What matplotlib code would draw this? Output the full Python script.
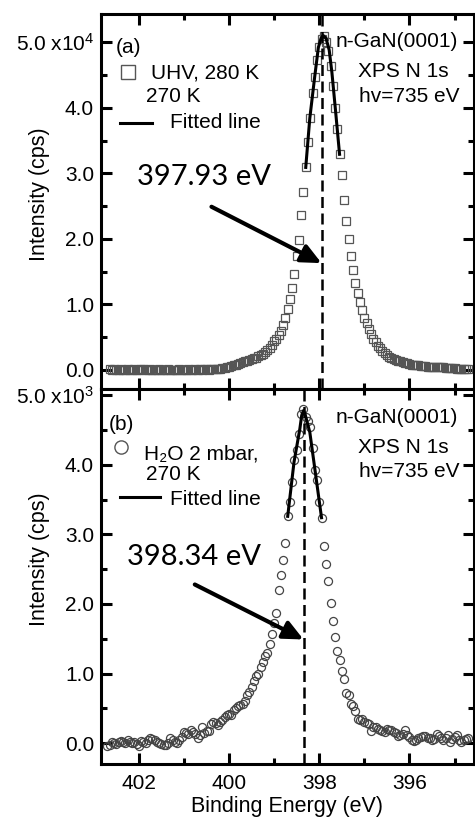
import matplotlib
matplotlib.use("Agg")
import matplotlib.pyplot as plt
from matplotlib.lines import Line2D
from matplotlib.ticker import MultipleLocator

plt.rcParams['font.family'] = ['Liberation Sans', 'DejaVu Sans']
plt.rcParams['mathtext.fontset'] = 'custom'
plt.rcParams['mathtext.rm'] = 'Liberation Sans'
plt.rcParams['mathtext.default'] = 'regular'

# UHV spectrum, intensity in 1e4 cps
energy_a = [
    402.65, 402.60, 402.55, 402.50, 402.45, 402.40, 402.35, 402.30, 402.25, 402.20,
    402.15, 402.10, 402.05, 402.00, 401.95, 401.90, 401.85, 401.80, 401.75, 401.70,
    401.65, 401.60, 401.55, 401.50, 401.45, 401.40, 401.35, 401.30, 401.25, 401.20,
    401.15, 401.10, 401.05, 401.00, 400.95, 400.90, 400.85, 400.80, 400.75, 400.70,
    400.65, 400.60, 400.55, 400.50, 400.45, 400.40, 400.35, 400.30, 400.25, 400.20,
    400.15, 400.10, 400.05, 400.00, 399.95, 399.90, 399.85, 399.80, 399.75, 399.70,
    399.65, 399.60, 399.55, 399.50, 399.45, 399.40, 399.35, 399.30, 399.25, 399.20,
    399.15, 399.10, 399.05, 399.00, 398.95, 398.90, 398.85, 398.80, 398.75, 398.70,
    398.65, 398.60, 398.55, 398.50, 398.45, 398.40, 398.35, 398.30, 398.25, 398.20,
    398.15, 398.10, 398.05, 398.00, 397.95, 397.90, 397.85, 397.80, 397.75, 397.70,
    397.65, 397.60, 397.55, 397.50, 397.45, 397.40, 397.35, 397.30, 397.25, 397.20,
    397.15, 397.10, 397.05, 397.00, 396.95, 396.90, 396.85, 396.80, 396.75, 396.70,
    396.65, 396.60, 396.55, 396.50, 396.45, 396.40, 396.35, 396.30, 396.25, 396.20,
    396.15, 396.10, 396.05, 396.00, 395.95, 395.90, 395.85, 395.80, 395.75, 395.70,
    395.65, 395.60, 395.55, 395.50, 395.45, 395.40, 395.35, 395.30, 395.25, 395.20,
    395.15, 395.10, 395.05, 395.00, 394.95, 394.90, 394.85, 394.80, 394.75, 394.70,
]
counts_a = [
    0.01, 0.00, 0.01, 0.00, 0.00, 0.01, 0.00, 0.00, 0.01, 0.00,
    0.00, 0.01, 0.00, 0.00, 0.01, 0.01, 0.00, 0.00, 0.01, 0.00,
    0.00, 0.00, 0.01, 0.00, 0.00, 0.00, 0.01, 0.00, 0.00, 0.00,
    0.00, 0.01, 0.00, 0.00, 0.00, 0.01, 0.00, 0.00, 0.01, 0.00,
    0.01, 0.00, 0.01, 0.01, 0.00, 0.01, 0.01, 0.01, 0.02, 0.02,
    0.03, 0.03, 0.04, 0.05, 0.06, 0.07, 0.08, 0.09, 0.10, 0.12,
    0.13, 0.14, 0.15, 0.16, 0.18, 0.19, 0.21, 0.23, 0.25, 0.27,
    0.31, 0.34, 0.38, 0.44, 0.48, 0.53, 0.60, 0.69, 0.80, 0.93,
    1.08, 1.25, 1.47, 1.74, 1.99, 2.36, 2.71, 3.09, 3.47, 3.84,
    4.23, 4.47, 4.73, 4.92, 5.05, 5.10, 5.00, 4.86, 4.63, 4.33,
    4.00, 3.67, 3.29, 2.97, 2.59, 2.27, 2.00, 1.74, 1.52, 1.33,
    1.17, 1.03, 0.91, 0.80, 0.71, 0.62, 0.55, 0.48, 0.42, 0.37,
    0.33, 0.29, 0.26, 0.23, 0.20, 0.18, 0.16, 0.15, 0.14, 0.13,
    0.12, 0.11, 0.10, 0.09, 0.08, 0.08, 0.07, 0.07, 0.06, 0.06,
    0.06, 0.05, 0.05, 0.05, 0.05, 0.04, 0.04, 0.04, 0.04, 0.03,
    0.03, 0.03, 0.03, 0.03, 0.02, 0.02, 0.02, 0.02, 0.02, 0.02,
]
fit_a_x = [398.30, 398.21, 398.10, 398.02, 397.96, 397.91, 397.85, 397.78, 397.72, 397.64, 397.55]
fit_a_y = [3.09, 3.84, 4.48, 4.92, 5.06, 5.10, 5.06, 4.88, 4.54, 3.96, 3.29]

# H2O 2 mbar spectrum, intensity in 1e3 cps
energy_b = [
    402.70, 402.65, 402.60, 402.55, 402.50, 402.45, 402.40, 402.35, 402.30, 402.25,
    402.20, 402.15, 402.10, 402.05, 402.00, 401.95, 401.90, 401.85, 401.80, 401.75,
    401.70, 401.65, 401.60, 401.55, 401.50, 401.45, 401.40, 401.35, 401.30, 401.25,
    401.20, 401.15, 401.10, 401.05, 401.00, 400.95, 400.90, 400.85, 400.80, 400.75,
    400.70, 400.65, 400.60, 400.55, 400.50, 400.45, 400.40, 400.35, 400.30, 400.25,
    400.20, 400.15, 400.10, 400.05, 400.00, 399.95, 399.90, 399.85, 399.80, 399.75,
    399.70, 399.65, 399.60, 399.55, 399.50, 399.45, 399.40, 399.35, 399.30, 399.25,
    399.20, 399.15, 399.10, 399.05, 399.00, 398.95, 398.90, 398.85, 398.80, 398.75,
    398.70, 398.65, 398.60, 398.55, 398.50, 398.45, 398.40, 398.35, 398.30, 398.25,
    398.20, 398.15, 398.10, 398.05, 398.00, 397.95, 397.90, 397.85, 397.80, 397.75,
    397.70, 397.65, 397.60, 397.55, 397.50, 397.45, 397.40, 397.35, 397.30, 397.25,
    397.20, 397.15, 397.10, 397.05, 397.00, 396.95, 396.90, 396.85, 396.80, 396.75,
    396.70, 396.65, 396.60, 396.55, 396.50, 396.45, 396.40, 396.35, 396.30, 396.25,
    396.20, 396.15, 396.10, 396.05, 396.00, 395.95, 395.90, 395.85, 395.80, 395.75,
    395.70, 395.65, 395.60, 395.55, 395.50, 395.45, 395.40, 395.35, 395.30, 395.25,
    395.20, 395.15, 395.10, 395.05, 395.00, 394.95, 394.90, 394.85, 394.80, 394.75,
    394.70,
]
counts_b = [
    -0.04, -0.02, 0.01, 0.00, -0.01, 0.02, 0.03, 0.01, 0.00, 0.04,
    0.02, 0.00, 0.02, -0.01, -0.04, 0.03, 0.01, 0.00, 0.05, 0.07,
    0.06, 0.05, 0.02, 0.00, -0.01, -0.03, -0.02, 0.00, 0.08, 0.05,
    0.02, 0.00, 0.05, 0.09, 0.16, 0.14, 0.13, 0.19, 0.16, 0.13,
    0.07, 0.12, 0.23, 0.15, 0.17, 0.18, 0.27, 0.30, 0.29, 0.26,
    0.31, 0.33, 0.38, 0.40, 0.42, 0.40, 0.47, 0.50, 0.53, 0.55,
    0.56, 0.60, 0.69, 0.74, 0.80, 0.90, 0.97, 0.99, 1.09, 1.17,
    1.25, 1.30, 1.43, 1.57, 1.73, 1.87, 2.20, 2.41, 2.63, 2.88,
    3.26, 3.47, 3.75, 4.07, 4.21, 4.45, 4.73, 4.80, 4.69, 4.63,
    4.54, 4.24, 3.92, 3.78, 3.47, 3.24, 2.83, 2.58, 2.33, 2.02,
    1.76, 1.52, 1.33, 1.19, 1.04, 0.92, 0.72, 0.69, 0.56, 0.53,
    0.46, 0.34, 0.33, 0.35, 0.31, 0.29, 0.27, 0.18, 0.23, 0.23,
    0.21, 0.19, 0.18, 0.16, 0.20, 0.19, 0.19, 0.16, 0.14, 0.10,
    0.12, 0.13, 0.19, 0.11, 0.09, 0.05, 0.03, 0.05, 0.08, 0.09,
    0.10, 0.10, 0.08, 0.07, 0.05, 0.06, 0.13, 0.10, 0.08, 0.04,
    0.07, 0.11, 0.01, 0.06, 0.09, 0.11, 0.05, 0.02, 0.04, 0.06,
    0.08,
]
fit_b_x = [398.70, 398.56, 398.43, 398.39, 398.35, 398.32, 398.21, 398.10, 397.95]
fit_b_y = [3.26, 4.04, 4.52, 4.71, 4.78, 4.74, 4.47, 3.95, 3.24]

peak_a = 397.93
peak_b = 398.34
ytick_vals = [0, 1, 2, 3, 4, 5]
ylabels_a = ['0.0', '1.0', '2.0', '3.0', '4.0', '5.0 x10$^4$']
ylabels_b = ['0.0', '1.0', '2.0', '3.0', '4.0', '5.0 x10$^3$']

W, H = 475, 821
fig = plt.figure(figsize=(W / 100, H / 100), dpi=100)
ax_a = fig.add_axes([101 / W, 1 - 389 / H, 372.5 / W, 375 / H])
ax_b = fig.add_axes([101 / W, 1 - 764 / H, 372.5 / W, 375 / H])

def fxy(x, y):
    return x / W, 1 - y / H

for ax in (ax_a, ax_b):
    ax.set_xlim(402.84, 394.58)
    ax.xaxis.set_major_locator(MultipleLocator(2))
    ax.xaxis.set_minor_locator(MultipleLocator(1))
    ax.yaxis.set_minor_locator(MultipleLocator(0.5))
    ax.tick_params(which='both', direction='in', top=True, right=True,
                   width=2.2, labelsize=15)
    ax.tick_params(which='major', length=8, pad=5)
    ax.tick_params(which='minor', length=4.5)
    for s in ax.spines.values():
        s.set_linewidth(2.2)

ax_a.set_ylim(-0.29, 5.43)
ax_b.set_ylim(-0.30, 5.09)
ax_a.set_yticks(ytick_vals, ylabels_a)
ax_b.set_yticks(ytick_vals, ylabels_b)
ax_a.tick_params(axis='x', labelbottom=False)
ax_b.tick_params(axis='x', pad=7)

arrow_style = dict(arrowstyle='-|>,head_length=0.75,head_width=0.35', lw=3,
                   color='k', mutation_scale=16, shrinkA=0, shrinkB=0)

ax_a.plot(energy_a, counts_a, ls='none', marker='s', ms=5.2, mfc='none',
          mec='#555555', mew=0.9)
ax_a.plot(fit_a_x, fit_a_y, color='k', lw=2.2)
ax_a.axvline(peak_a, color='k', lw=1.8, ls=(0, (4.4, 2.2)))
ax_a.annotate('', xy=(397.95, 1.63), xytext=(400.39, 2.49), arrowprops=arrow_style)

ax_b.plot(energy_b, counts_b, ls='none', marker='o', ms=5.8, mfc='none',
          mec='#444444', mew=0.9)
ax_b.plot(fit_b_x, fit_b_y, color='k', lw=2.2)
ax_b.axvline(peak_b, color='k', lw=1.8, ls=(0, (4.4, 2.2)))
ax_b.annotate('', xy=(398.35, 1.49), xytext=(400.76, 2.28), arrowprops=arrow_style)

for ax, yc in ((ax_a, 0.52), (ax_b, 0.545)):
    ax.set_ylabel('Intensity (cps)', fontsize=15.5)
    ax.yaxis.set_label_coords(-0.137, yc)
ax_b.set_xlabel('Binding Energy (eV)', fontsize=15.5, labelpad=2)

# peak position labels
fig.text(*fxy(137, 185), f'{peak_a:.2f} eV', fontsize=21, family='Lato', va='baseline')
fig.text(*fxy(127, 565), f'{peak_b:.2f} eV', fontsize=21, family='Lato', va='baseline')

# sample / measurement notes
for (x, y, s) in [(335.5, 46.7, 'n-GaN(0001)'), (357.5, 76.7, 'XPS N 1s'),
                  (359, 101.7, 'hv=735 eV'), (335.5, 423.3, 'n-GaN(0001)'),
                  (357.5, 452.7, 'XPS N 1s'), (359, 476.7, 'hv=735 eV')]:
    fig.text(*fxy(x, y), s, fontsize=15, va='baseline')

# legends
fig.text(*fxy(115.5, 53.3), '(a)', fontsize=15, va='baseline')
fig.add_artist(Line2D([127.5 / W], [1 - 72 / H], marker='s', ms=10, mfc='none',
                      mec='#555555', mew=1.0, ls='none'))
fig.text(*fxy(151, 78.3), 'UHV, 280 K', fontsize=15, va='baseline')
fig.text(*fxy(146, 101.7), '270 K', fontsize=15, va='baseline')
fig.add_artist(Line2D([120 / W, 152 / W], [1 - 123.3 / H] * 2, color='k', lw=2.2))
fig.text(*fxy(170, 128.3), 'Fitted line', fontsize=15, va='baseline')

fig.text(*fxy(109, 430), '(b)', fontsize=15, va='baseline')
fig.add_artist(Line2D([120.7 / W], [1 - 446.7 / H], marker='o', ms=9.5, mfc='none',
                      mec='#555555', mew=1.0, ls='none'))
fig.text(*fxy(144.5, 459.5), 'H₂O 2 mbar,', fontsize=15, va='baseline')
fig.text(*fxy(146, 480), '270 K', fontsize=15, va='baseline')
fig.add_artist(Line2D([120 / W, 160 / W], [1 - 497.3 / H] * 2, color='k', lw=2.2))
fig.text(*fxy(170, 505), 'Fitted line', fontsize=15, va='baseline')

fig.savefig('out.png', dpi=100)
